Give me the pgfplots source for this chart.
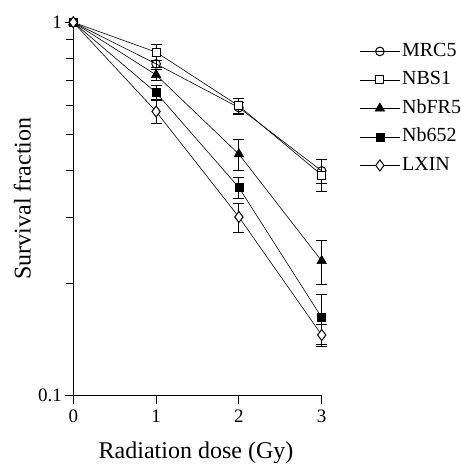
\documentclass[border=0pt]{standalone}
\usepackage{pgfplots}
\pgfplotsset{compat=1.18}
\usepackage{fontspec}
\setmainfont{Liberation Serif}
\begin{document}
\begin{tikzpicture}
\useasboundingbox (0,0) rectangle (461pt,464pt);
\begin{axis}[
  at={(73.3pt,68.3pt)}, anchor=south west,
  scale only axis, width=248.4pt, height=373.4pt,
  ymode=log, xmin=0, xmax=3, ymin=0.1, ymax=1,
  axis x line*=bottom, axis y line*=left,
  axis line style={line width=1.1pt, -},
  xtick={0,1,2,3}, ytick={0.1,1}, yticklabels={0.1,1},
  minor ytick={0.2,0.3,0.4,0.5,0.6,0.7,0.8,0.9},
  tick align=outside,
  major tick length=8pt, minor tick length=7pt,
  tick style={line width=0.9pt, black},
  x tick label style={yshift=-3pt},
  /pgf/number format/assume math mode=true,
  tick label style={font=\fontsize{19}{22}\selectfont},
  clip=false,
  xlabel={Radiation dose (Gy)},
  ylabel={Survival fraction},
  every axis x label/.style={at={(axis description cs:0.494,-0.168)}, anchor=base, font=\fontsize{24}{28}\selectfont},
  every axis y label/.style={at={(axis description cs:-0.205,0.528)}, rotate=90, anchor=center, font=\fontsize{24}{28}\selectfont},
  legend style={at={(axis description cs:1.14,0.952)}, anchor=north west, draw=none, fill=none,
    font=\fontsize{20}{23}\selectfont,
    nodes={text height=14pt, text depth=4pt, inner ysep=0pt},
    row sep=10.5pt},
  legend cell align=left,
  legend image code/.code={\draw[mark repeat=2,mark phase=2,#1] plot coordinates {(0cm,0cm) (0.7cm,0cm) (1.4cm,0cm)};},
  every axis plot/.append style={line width=0.6pt, black},
]
% error bars
\pgfplotsset{ebar/.style={draw=none, forget plot, error bars/.cd, y dir=both, y explicit,
   error bar style={draw=black, line width=0.9pt},
   error mark options={draw=black, rotate=90, mark size=5.5pt, line width=0.9pt}}}
\addplot[ebar] table[x=x,y=y,y error=e] {
x y e
1 0.774 0.015
2 0.591 0.02
3 0.400 0.03
};
\addplot[ebar] table[x=x,y=y,y error=e] {
x y e
1 0.832 0.04
2 0.597 0.03
3 0.390 0.038
};
\addplot[ebar] table[x=x,y=y,y error=e] {
x y e
1 0.723 0.025
2 0.4435 0.043
3 0.2296 0.031
};
\addplot[ebar] table[x=x,y=y,y error=e] {
x y e
1 0.648 0.028
2 0.361 0.023
3 0.162 0.025
};
\addplot[ebar] table[x=x,y=y,y error=e] {
x y e
1 0.577 0.04
2 0.301 0.027
3 0.1454 0.0095
};
% series
\addplot[mark=o, mark size=4.3pt, mark options={fill=white, line width=1pt, solid}] coordinates {(0,1) (1,0.774) (2,0.591) (3,0.400)};
\addlegendentry{MRC5}
\addplot[mark=square*, mark size=4pt, mark options={fill=white, line width=1pt, solid}] coordinates {(0,1) (1,0.832) (2,0.597) (3,0.390)};
\addlegendentry{NBS1}
\addplot[mark=triangle*, mark size=5.5pt, mark options={fill=black, solid}] coordinates {(0,1) (1,0.723) (2,0.4435) (3,0.2296)};
\addlegendentry{NbFR5}
\addplot[mark=square*, mark size=4pt, mark options={fill=black, solid}] coordinates {(0,1) (1,0.648) (2,0.361) (3,0.162)};
\addlegendentry{Nb652}
\addplot[mark=diamond*, mark size=5.5pt, mark options={fill=white, line width=1pt, solid}] coordinates {(0,1) (1,0.577) (2,0.301) (3,0.1454)};
\addlegendentry{LXIN}
\end{axis}
\end{tikzpicture}
\end{document}
